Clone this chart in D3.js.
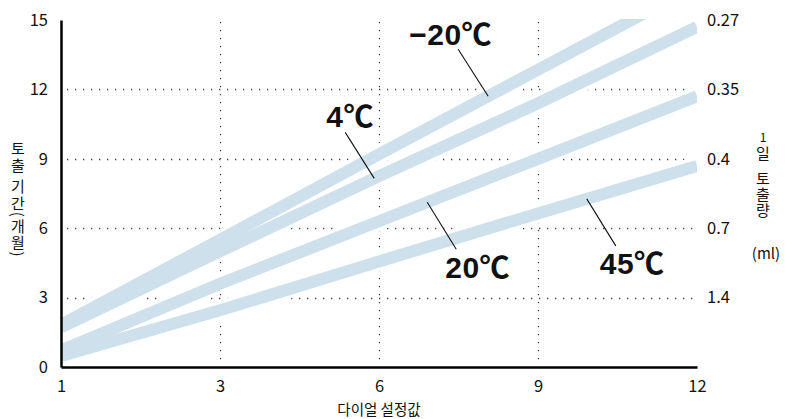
<!DOCTYPE html>
<html>
<head>
<meta charset="utf-8">
<script src="https://cdn.jsdelivr.net/npm/d3@7"></script>
<style>
  body { margin: 0; background: #fff; }
  svg { display: block; }
  text { font-family: "Noto Sans CJK KR", "Noto Sans", sans-serif; fill: #111; }
</style>
</head>
<body>
<svg id="chart" width="795" height="419"></svg>
<script>
// Dial settings on the horizontal axis (evenly spaced ticks)
const dialTicks = [1, 3, 6, 9, 12];
// Discharge period in months (left axis)
const periodTicks = [0, 3, 6, 9, 12, 15];
// Daily discharge in ml matching each period tick (right axis)
const dailyOutputLabels = ["", "1.4", "0.7", "0.4", "0.35", "0.27"];

// Discharge period (months) at each dial setting, per ambient temperature
const seriesNames = ["−20℃", "4℃", "20℃", "45℃"];
const periodMinus20 = [1.82, 5.5, 9.2, 12.85, 16.5];
const period4 = [1.72, 5.0, 8.25, 11.4, 14.7];
const period20 = [0.71, 3.6, 6.3, 9.0, 11.7];
const period45 = [0.48, 2.45, 4.56, 6.64, 8.69];
// Dial value where each name's leader line touches its band
const leaderDial = [8.06, 5.91, 6.91, 9.92];

const seriesValues = [periodMinus20, period4, period20, period45];

const svg = d3.select("#chart");
const plotLeft = 61, plotRight = 697, plotTop = 20, plotBottom = 367;

// Piecewise-linear x scale: the dial ticks sit at equal spacing
const step = (plotRight - plotLeft) / (dialTicks.length - 1);
const x = d3.scaleLinear()
  .domain(dialTicks)
  .range(dialTicks.map((d, i) => plotLeft + i * step));
const y = d3.scaleLinear().domain([0, 15]).range([plotBottom, plotTop]);

// Clip region for the bands
svg.append("defs").append("clipPath").attr("id", "plot")
  .append("rect")
  .attr("x", plotLeft).attr("y", plotTop - 1)
  .attr("width", plotRight - plotLeft).attr("height", plotBottom - plotTop + 1);

// Dotted grid
const grid = svg.append("g")
  .attr("stroke", "#444")
  .attr("stroke-width", 1.3)
  .attr("stroke-dasharray", "1.3 6.7");
grid.selectAll("line.h")
  .data(periodTicks.filter(d => d > 0 && d < 15))
  .join("line").attr("class", "h")
  .attr("x1", plotLeft + 6).attr("x2", plotRight)
  .attr("y1", d => Math.round(y(d)) + 0.5).attr("y2", d => Math.round(y(d)) + 0.5);
grid.selectAll("line.v")
  .data(dialTicks.slice(1, -1))
  .join("line").attr("class", "v")
  .attr("x1", d => Math.round(x(d)) + 0.5).attr("x2", d => Math.round(x(d)) + 0.5)
  .attr("y1", plotTop + 2).attr("y2", plotBottom - 2);

// Bands, with a white halo that breaks the grid around them
const line = d3.line()
  .x((d, i) => x(dialTicks[i]))
  .y(d => y(d));
const bands = svg.append("g").attr("clip-path", "url(#plot)").attr("fill", "none");
bands.selectAll("path.halo")
  .data(seriesValues)
  .join("path").attr("class", "halo")
  .attr("d", line)
  .attr("stroke", "#fff")
  .attr("stroke-width", 19);
bands.selectAll("path.band")
  .data(seriesValues)
  .join("path").attr("class", "band")
  .attr("d", line)
  .attr("stroke", "#cde0eb")
  .attr("stroke-width", 12);

// Axes
const axisLeft = svg.append("g")
  .attr("transform", `translate(${plotLeft},0)`)
  .call(d3.axisLeft(y).tickValues(periodTicks).tickSize(0).tickPadding(13));
const axisBottom = svg.append("g")
  .attr("transform", `translate(0,${plotBottom})`)
  .call(d3.axisBottom(x).tickValues(dialTicks).tickFormat(d3.format("d")).tickSize(0).tickPadding(13));
const axisRight = svg.append("g")
  .attr("transform", `translate(${plotRight},0)`)
  .call(d3.axisRight(y).tickValues(periodTicks)
    .tickFormat((d, i) => dailyOutputLabels[i]).tickSize(0).tickPadding(10));
axisRight.select(".domain").remove();
[axisLeft, axisBottom].forEach(g => g.select(".domain")
  .attr("stroke", "#000").attr("stroke-width", 2.5));
[axisLeft, axisBottom, axisRight].forEach(g => g.selectAll("text")
  .attr("font-family", "\"Noto Sans CJK KR\", sans-serif")
  .attr("font-size", 16.5).attr("fill", "#111"));

// Temperature names with leader lines
const valueAt = (vals, d) => {
  const i = Math.max(1, Math.min(dialTicks.length - 1, d3.bisectRight(dialTicks, d)));
  const t = (d - dialTicks[i - 1]) / (dialTicks[i] - dialTicks[i - 1]);
  return vals[i - 1] + t * (vals[i] - vals[i - 1]);
};
const leaderOffset = [[-30, -47], [-29, -46], [29, 47], [29, 47]];
const labelOffset = [[-49, -4], [-19, -5], [-11, 29], [-16, 28]];
const names = svg.append("g");
seriesNames.forEach((name, i) => {
  const px = x(leaderDial[i]);
  const py = y(valueAt(seriesValues[i], leaderDial[i]));
  const ex = px + leaderOffset[i][0], ey = py + leaderOffset[i][1];
  names.append("line")
    .attr("x1", px).attr("y1", py).attr("x2", ex).attr("y2", ey)
    .attr("stroke", "#111").attr("stroke-width", 1.1);
  names.append("text")
    .attr("x", ex + labelOffset[i][0]).attr("y", ey + labelOffset[i][1])
    .style("font-family", "\"Liberation Sans\", Arial, \"Noto Sans CJK KR\", sans-serif")
    .attr("font-weight", "bold").attr("font-size", 30).attr("fill", "#000")
    .attr("letter-spacing", 0.5)
    .text(name);
});

// Axis titles
svg.append("text")
  .attr("x", (plotLeft + plotRight) / 2).attr("y", 415)
  .attr("text-anchor", "middle").attr("font-size", 14.5)
  .text("다이얼 설정값");

// Vertical titles set in vertical writing mode
function verticalTitle(cx, startY, text, size, spacing, wordGap) {
  svg.append("text")
    .attr("x", cx).attr("y", startY)
    .style("writing-mode", "vertical-rl")
    .style("text-orientation", "mixed")
    .attr("letter-spacing", spacing)
    .attr("word-spacing", wordGap)
    .attr("font-size", size)
    .text(text);
}
verticalTitle(18, 141, "토출 기간(개월)", 15, 1.5, 0);

svg.append("text")
  .attr("x", 763).attr("y", 141.5)
  .attr("text-anchor", "middle")
  .attr("font-size", 12)
  .text("1");
verticalTitle(763, 145.5, "일 토출량", 15, 1, 5);
svg.append("text")
  .attr("x", 766).attr("y", 259)
  .attr("text-anchor", "middle").attr("font-size", 15)
  .text("(ml)");
</script>
</body>
</html>
